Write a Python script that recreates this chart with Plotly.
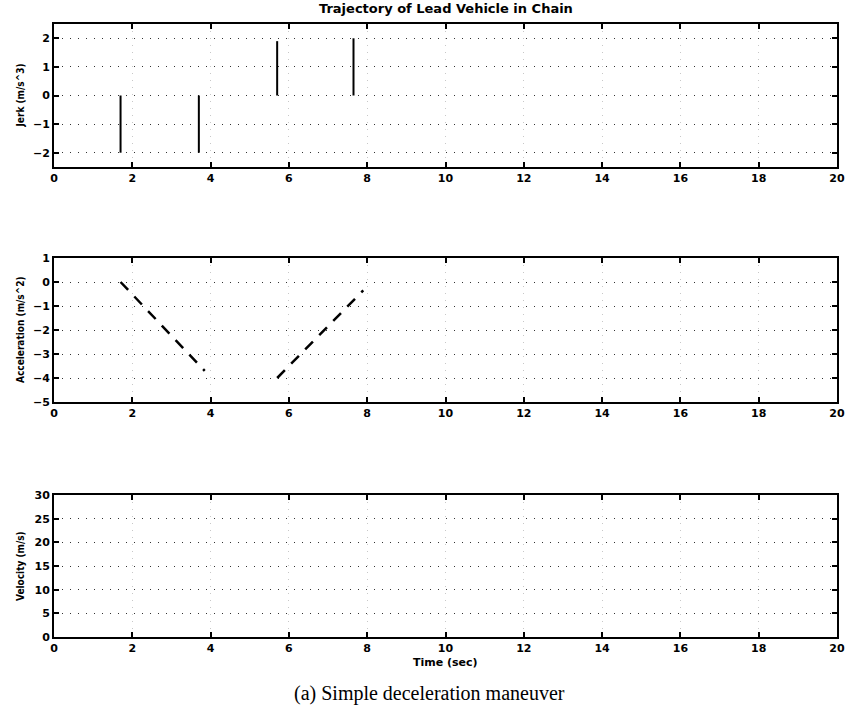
import plotly.graph_objects as go

# ---- data ----
time_ticks = list(range(0, 21, 2))
jerk_ticks = [-2, -1, 0, 1, 2]
accel_ticks = [-5, -4, -3, -2, -1, 0, 1]
vel_ticks = [0, 5, 10, 15, 20, 25, 30]

# jerk switching instants and levels (vertical steps from 0)
jerk_times = [1.7, 3.7, 5.7, 7.65]
jerk_levels = [-2.0, -2.0, 1.9, 2.0]

# acceleration ramps (dashed)
accel_down_t = [1.7, 3.85]
accel_down_a = [0.0, -3.7]
accel_up_t = [5.7, 7.9]
accel_up_a = [-4.0, -0.35]

# build jerk step polyline
jx, jy = [], []
for t, lv in zip(jerk_times, jerk_levels):
    jx += [t, t, None]
    jy += [0, lv, None]

fig = go.Figure()
fig.add_trace(go.Scatter(x=jx, y=jy, mode="lines", line=dict(color="black", width=2),
                         xaxis="x", yaxis="y", showlegend=False))
fig.add_trace(go.Scatter(x=accel_down_t, y=accel_down_a, mode="lines",
                         line=dict(color="black", width=2.5, dash="11px,9px"),
                         xaxis="x2", yaxis="y2", showlegend=False))
fig.add_trace(go.Scatter(x=accel_up_t, y=accel_up_a, mode="lines",
                         line=dict(color="black", width=2.5, dash="11px,9px"),
                         xaxis="x2", yaxis="y2", showlegend=False))
fig.add_trace(go.Scatter(x=[], y=[], mode="lines", line=dict(color="black", width=2),
                         xaxis="x3", yaxis="y3", showlegend=False))

tickfont = dict(family="DejaVu Sans", size=11, color="black", weight="bold")

def xax(anchor):
    return dict(anchor=anchor, range=[0, 20], tickvals=time_ticks, ticks="inside",
                ticklen=5, tickwidth=2, tickcolor="black", showline=True, linewidth=2,
                linecolor="black", mirror="ticks", showgrid=True, gridcolor="#c8c8c8",
                griddash="1px,6px", gridwidth=1, zeroline=False, tickfont=tickfont)

def yax(anchor, rng, tv, dom):
    return dict(anchor=anchor, domain=dom, range=rng, tickvals=tv, ticks="inside",
                ticklen=5, tickwidth=2, tickcolor="black", showline=True, linewidth=2,
                linecolor="black", mirror="ticks", showgrid=True, gridcolor="#333333",
                griddash="1px,7px", gridwidth=1, zeroline=False, tickfont=tickfont)

H = 714
top, bot = 24, 77
ph = H - top - bot

def dom(y0px, y1px):
    return [(H - bot - y1px) / ph, (H - bot - y0px) / ph]

fig.update_layout(
    width=857, height=714,
    margin=dict(l=54, r=17, t=top, b=bot),
    paper_bgcolor="white", plot_bgcolor="white",
    xaxis=xax("y"), xaxis2=xax("y2"), xaxis3=xax("y3"),
    yaxis=yax("x", [-2.5, 2.5], jerk_ticks, dom(24, 167)),
    yaxis2=yax("x2", [-5, 1], accel_ticks, dom(258, 402)),
    yaxis3=yax("x3", [0, 30], vel_ticks, dom(495, 637)),
)

lab = dict(family="DejaVu Sans Condensed", size=10, color="black", weight="bold")
ann = []
ann.append(dict(text="Trajectory of Lead Vehicle in Chain", xref="paper", yref="paper",
                x=0.5, y=1, yshift=16, xanchor="center", yanchor="middle", showarrow=False,
                font=dict(family="DejaVu Sans", size=13, color="black", weight="bold")))
for txt, (a, b) in [("Jerk (m/s^3)", (24, 167)), ("Acceleration (m/s^2)", (258, 402)),
                    ("Velocity (m/s)", (495, 637))]:
    d = dom(a, b)
    ann.append(dict(text=txt, xref="paper", yref="paper", x=0, xshift=-34,
                    y=(d[0] + d[1]) / 2, xanchor="center", yanchor="middle",
                    textangle=-90, showarrow=False, font=lab))
ann.append(dict(text="Time (sec)", xref="paper", yref="paper", x=0.5, y=0, yshift=-25,
                xanchor="center", yanchor="middle", showarrow=False,
                font=dict(family="DejaVu Sans", size=11, color="black", weight="bold")))
ann.append(dict(text="(a) Simple deceleration maneuver", xref="paper", yref="paper",
                x=(431 - 54) / (857 - 54 - 17), y=0, yshift=-56,
                xanchor="center", yanchor="middle", showarrow=False,
                font=dict(family="Liberation Serif", size=20, color="black")))
fig.update_layout(annotations=ann)

fig.write_html("out.html")
